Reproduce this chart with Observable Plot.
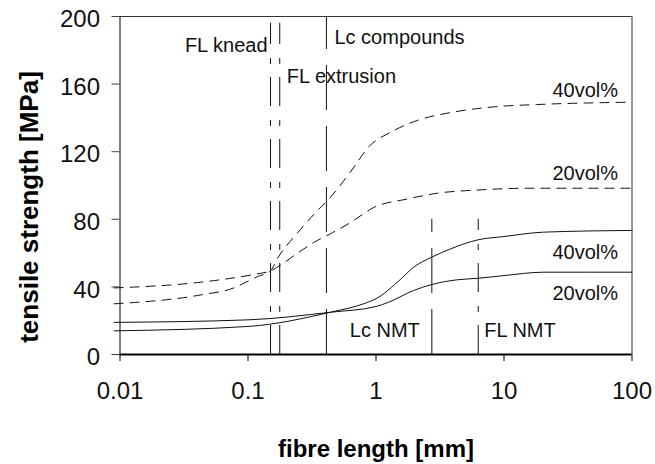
<!DOCTYPE html>
<html>
<head>
<meta charset="utf-8">
<script src="https://cdn.jsdelivr.net/npm/d3@7"></script>
<script src="https://cdn.jsdelivr.net/npm/@observablehq/plot@0.6"></script>
<style>
  html, body { margin: 0; padding: 0; background: #fff; }
</style>
</head>
<body>
<div id="chart"></div>
<script>
// ---- data (fibre length in mm, tensile strength in MPa) ----
const xTicks = [0.01, 0.1, 1, 10, 100];
const yTicks = [0, 40, 80, 120, 160, 200];

// compounds (dashed)
const comp40X = [0.009, 0.043, 0.078, 0.1, 0.118, 0.15, 0.169, 0.24, 0.33, 0.44, 0.63, 0.9, 1.3, 2.1, 4, 8.85, 18, 100];
const comp40Y = [30, 35.3, 39.5, 43.4, 46, 49.5, 56.6, 71.4, 83.2, 93, 107.9, 123.7, 131.5, 138.5, 143.4, 146.7, 147.9, 149.3];
const comp20X = [0.009, 0.043, 0.078, 0.118, 0.15, 0.18, 0.24, 0.33, 0.44, 0.63, 0.96, 1.75, 3, 6.5, 16, 100];
const comp20Y = [39.4, 42.8, 45.4, 47.7, 49.5, 53, 59.6, 66.5, 71.4, 78, 87, 92, 95.4, 97.4, 98.4, 98.4];

// NMT (solid)
const nmt40X = [0.009, 0.1, 0.44, 0.8, 1, 1.55, 1.97, 2.73, 3.82, 6.3, 10, 20.4, 100];
const nmt40Y = [14, 16.6, 25, 30, 33, 44.4, 51.7, 57.6, 62.5, 67.9, 69.8, 72.4, 73.4];
const nmt20X = [0.009, 0.1, 0.44, 1, 1.26, 1.97, 2.73, 4.3, 6.3, 10, 20.4, 100];
const nmt20Y = [19, 20.5, 25, 28.4, 31, 37.9, 41.4, 44.2, 45.1, 46.7, 48.7, 48.7];

// characteristic lengths (vertical lines)
const flNames = ["FL knead", "FL extrusion", "FL NMT"];
const flX = [0.15, 0.177, 6.29];
const flTop = [196, 196, 80];
const lcNames = ["Lc compounds", "Lc NMT"];
const lcX = [0.41, 2.73];
const lcTop = [200, 80];

// curve labels
const volLabels = ["40vol%", "20vol%", "40vol%", "20vol%"];
const volLabelY = [152.2, 103, 56.8, 32.5];

// ---- build tables ----
const toRows = (xs, ys) => xs.map((x, i) => ({x, y: ys[i]}));
const comp40 = toRows(comp40X, comp40Y);
const comp20 = toRows(comp20X, comp20Y);
const nmt40 = toRows(nmt40X, nmt40Y);
const nmt20 = toRows(nmt20X, nmt20Y);
const flLines = flX.map((x, i) => ({x, top: flTop[i], name: flNames[i]}));
const lcLines = lcX.map((x, i) => ({x, top: lcTop[i], name: lcNames[i]}));
const volRows = volLabels.map((t, i) => ({t, x: 100, y: volLabelY[i]}));

const ink = "#111";
const font = "'Liberation Sans', Arial, sans-serif";
const annoSize = 20;

const chart = Plot.plot({
  width: 655,
  height: 464,
  marginLeft: 119.5,
  marginRight: 23.5,
  marginTop: 16,
  marginBottom: 110,
  style: {fontFamily: font, background: "#fff", color: ink, overflow: "visible"},
  x: {type: "log", domain: [0.01, 100]},
  y: {domain: [0, 200]},
  marks: [
    // frame
    Plot.ruleY([200], {stroke: "#333", strokeWidth: 1}),
    Plot.ruleX([100], {stroke: "#333", strokeWidth: 1}),
    Plot.ruleX([0.01], {stroke: "#000", strokeWidth: 1}),

    // axes
    Plot.axisY({ticks: yTicks, tickSize: 8, fill: "none", stroke: "#444", label: null}),
    Plot.axisY({ticks: yTicks, tickSize: 0, tickPadding: 20, dy: 3, fontSize: 24, fill: ink, label: null}),
    Plot.axisX({ticks: xTicks, tickSize: 7, tickPadding: 20, fontSize: 24, fill: ink, stroke: "#000",
                tickFormat: d => String(d), label: null}),
    Plot.ruleY([0], {stroke: "#000", strokeWidth: 2}),

    // vertical characteristic-length lines
    Plot.ruleX(flLines, {x: "x", y1: 0, y2: "top", stroke: ink, strokeWidth: 1, strokeDasharray: "29,13,6,14"}),
    Plot.ruleX(lcLines, {x: "x", y1: 0, y2: "top", stroke: ink, strokeWidth: 1, strokeDasharray: "45,16"}),

    // curves
    Plot.line(comp40, {x: "x", y: "y", stroke: ink, strokeWidth: 1, strokeDasharray: "9,7", curve: "monotone-x"}),
    Plot.line(comp20, {x: "x", y: "y", stroke: ink, strokeWidth: 1, strokeDasharray: "9,7", curve: "monotone-x"}),
    Plot.line(nmt40, {x: "x", y: "y", stroke: ink, strokeWidth: 1, curve: "monotone-x"}),
    Plot.line(nmt20, {x: "x", y: "y", stroke: ink, strokeWidth: 1, curve: "monotone-x"}),

    // annotations
    Plot.text([flLines[0]], {x: "x", y: 178.9, text: "name", textAnchor: "end", lineAnchor: "bottom", dx: -3, fontSize: annoSize, fill: ink}),
    Plot.text([flLines[1]], {x: "x", y: 160.9, text: "name", textAnchor: "start", lineAnchor: "bottom", dx: 7, fontSize: annoSize, fill: ink}),
    Plot.text([lcLines[0]], {x: "x", y: 184, text: "name", textAnchor: "start", lineAnchor: "bottom", dx: 8, fontSize: annoSize, fill: ink}),
    Plot.text([lcLines[1]], {x: "x", y: 10.2, text: "name", textAnchor: "end", lineAnchor: "bottom", dx: -12, fontSize: annoSize, fill: ink}),
    Plot.text([flLines[2]], {x: "x", y: 10.2, text: "name", textAnchor: "start", lineAnchor: "bottom", dx: 6, fontSize: annoSize, fill: ink}),
    Plot.text(volRows, {x: "x", y: "y", text: "t", textAnchor: "end", lineAnchor: "bottom", dx: -14, fontSize: annoSize, fill: ink}),

    // axis titles
    Plot.text(["fibre length [mm]"], {frameAnchor: "bottom", lineAnchor: "bottom", dy: 102, fontSize: 24,
      fontWeight: "bold", fill: "#000"}),
    Plot.text(["tensile strength [MPa]"], {frameAnchor: "left", rotate: -90, lineAnchor: "bottom", textAnchor: "middle",
      dx: -82.5, dy: 21.5, fontSize: 26, fontWeight: "bold", fill: "#000"})
  ]
});

document.getElementById("chart").appendChild(chart);
</script>
</body>
</html>
